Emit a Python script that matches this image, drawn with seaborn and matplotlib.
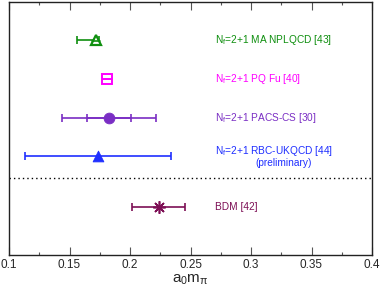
import matplotlib
matplotlib.use("Agg")
import matplotlib.pyplot as plt
import seaborn as sns
import pandas as pd
from matplotlib.ticker import MultipleLocator

# ---- data ----
names = [r"N$_\mathrm{f}$=2+1 MA NPLQCD [43]",
         r"N$_\mathrm{f}$=2+1 PQ Fu [40]",
         r"N$_\mathrm{f}$=2+1 PACS-CS [30]",
         r"N$_\mathrm{f}$=2+1 RBC-UKQCD [44]",
         "BDM [42]"]
values = [0.172, 0.1812, 0.1826, 0.1733, 0.224]
err_lo = [0.016, 0.002, 0.0388, 0.0598, 0.0221]
err_hi = [0.002, 0.002, 0.0391, 0.0606, 0.0217]
stat_lo = [0.0, 0.0, 0.0179, 0.0, 0.0]
stat_hi = [0.0, 0.0, 0.0180, 0.0, 0.0]
rows = [1, 2, 3, 4, 5.3]
colors = ["#0f8f0f", "#ff00ff", "#7a2ec4", "#1f2fff", "#7d0f55"]

sns.set_theme(style="ticks")
plt.rcParams["font.family"] = ["Liberation Sans", "DejaVu Sans"]
plt.rcParams["mathtext.fontset"] = "custom"
plt.rcParams["mathtext.rm"] = "Liberation Sans"
plt.rcParams["mathtext.it"] = "Liberation Sans:italic"

df = pd.DataFrame({"name": names, "value": values, "row": rows})

fig = plt.figure(figsize=(3.82, 2.88), dpi=100)
ax = fig.add_axes([9 / 382, 33 / 288, 363 / 382, 253.5 / 288])

caps = [3, 0, 3, 3, 3]
for i in range(len(values)):
    ax.errorbar(values[i], rows[i], xerr=[[err_lo[i]], [err_hi[i]]], fmt="none",
                ecolor=colors[i], elinewidth=1.2, capsize=caps[i], capthick=1.2, zorder=2)
    if stat_lo[i] > 0:
        ax.errorbar(values[i], rows[i], xerr=[[stat_lo[i]], [stat_hi[i]]], fmt="none",
                    ecolor=colors[i], elinewidth=1.2, capsize=3, capthick=1.2, zorder=2)

# open markers
ax.plot(values[0], rows[0], marker="^", ms=7, mfc="white", mec=colors[0], mew=1.6, ls="none", zorder=3)
ax.plot([values[0] - 0.003, values[0] + 0.003], [rows[0] + 0.02, rows[0] + 0.02],
        color=colors[0], lw=1.2, zorder=4)
ax.plot(values[1], rows[1], marker="s", ms=6.5, mfc="none", mec=colors[1], mew=1.4, ls="none", zorder=3)
ax.plot(values[1], rows[1], marker="_", ms=6.5, mec=colors[1], mew=1.4, ls="none", zorder=3)
# filled markers via seaborn
sns.scatterplot(data=df.iloc[[2]], x="value", y="row", marker="o", s=60, color=colors[2],
                edgecolor=colors[2], ax=ax, zorder=3, legend=False)
sns.scatterplot(data=df.iloc[[3]], x="value", y="row", marker="^", s=60, color=colors[3],
                edgecolor=colors[3], ax=ax, zorder=3, legend=False)
ax.plot(values[4], rows[4], marker=(8, 2, 0), ms=9, mec=colors[4], mew=1.2, ls="none", zorder=3)

# labels
tx = 0.270
yoff = [0, 0, 0, -0.15, 0]
for i in range(len(values)):
    ax.text(tx, rows[i] + yoff[i], names[i], color=colors[i], fontsize=7.3, va="center", ha="left")
ax.text(0.327, rows[3] + 0.16, "(preliminary)", color=colors[3], fontsize=7.3,
        va="center", ha="center")

ax.axhline(4.55, color="black", lw=1.0, ls=(0, (1, 2.2)))

ax.set_xlim(0.1, 0.4)
ax.set_ylim(6.55, 0)
ax.set_yticks([])
ax.set_ylabel("")
ax.set_xlabel(r"a$_0$m$_\mathrm{π}$", fontsize=11, labelpad=1)
ax.set_xticks([0.1, 0.15, 0.2, 0.25, 0.3, 0.35, 0.4])
ax.set_xticklabels(["0.1", "0.15", "0.2", "0.25", "0.3", "0.35", "0.4"])
ax.xaxis.set_minor_locator(MultipleLocator(0.025))
ax.tick_params(axis="x", which="major", direction="in", length=5.5, width=0.8, top=True,
               labelsize=8.5, pad=3, color="#555555")
ax.tick_params(axis="x", which="minor", direction="in", length=2.5, width=0.8, top=True,
               color="#555555")
for s in ax.spines.values():
    s.set_visible(True)
    s.set_linewidth(1.0)
    s.set_color("#222222")

fig.savefig("out.png", dpi=100)
